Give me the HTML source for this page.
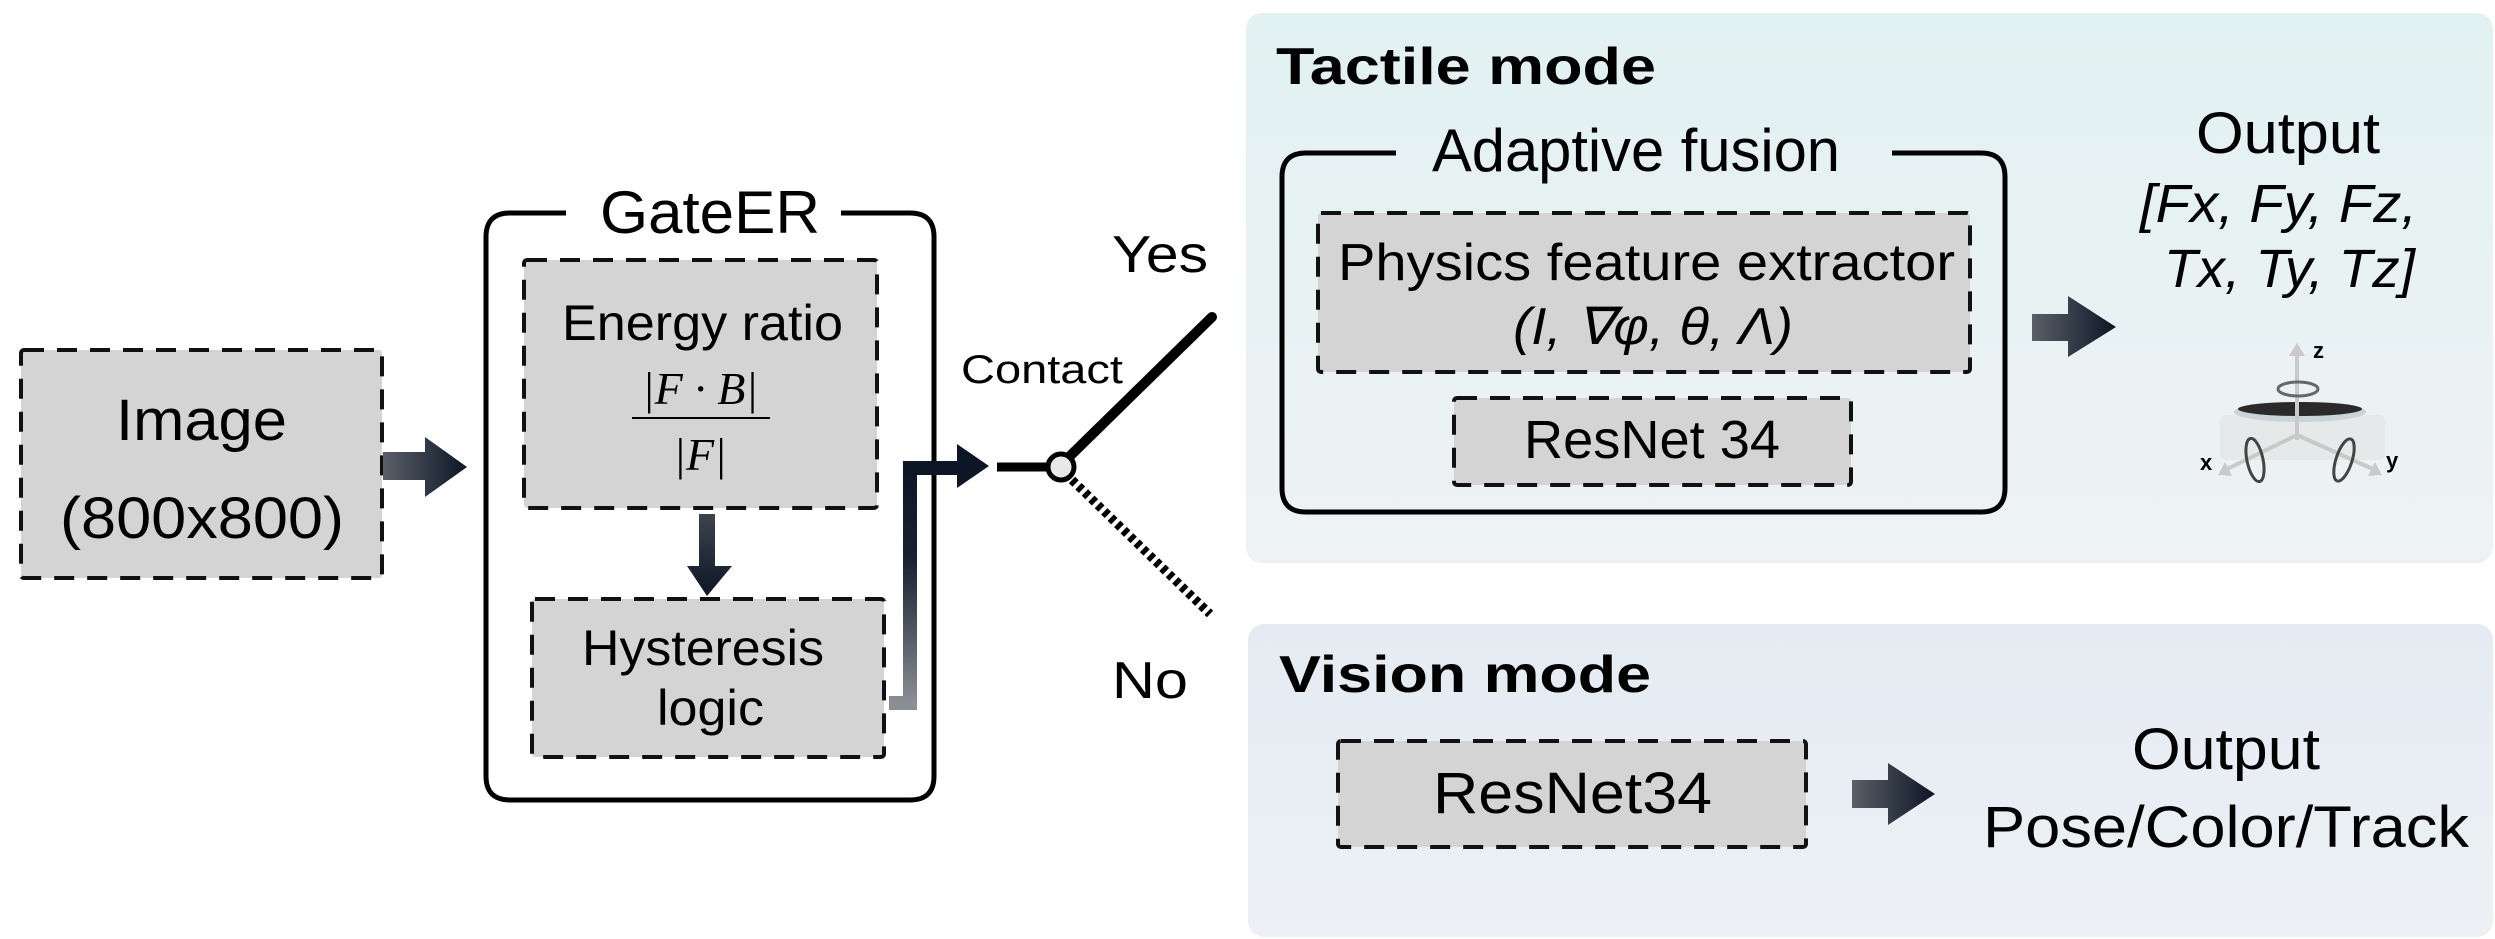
<!DOCTYPE html>
<html><head><meta charset="utf-8"><style>
html,body{margin:0;padding:0;background:#fff;}
svg{display:block;font-family:"Liberation Sans",sans-serif;}
</style></head><body>
<svg width="2495" height="939" viewBox="0 0 2495 939" xmlns="http://www.w3.org/2000/svg">
<defs>
<linearGradient id="tp" x1="0" y1="0" x2="0" y2="1"><stop offset="0" stop-color="#e2f1f1"/><stop offset="1" stop-color="#eef2f5"/></linearGradient>
<linearGradient id="vp" x1="0" y1="0" x2="0" y2="1"><stop offset="0" stop-color="#e4ebf2"/><stop offset="1" stop-color="#edf1f5"/></linearGradient>
<linearGradient id="ah" x1="0" y1="0" x2="1" y2="0"><stop offset="0" stop-color="#5a5f68"/><stop offset="1" stop-color="#0d1626"/></linearGradient>
<linearGradient id="av" x1="0" y1="0" x2="0" y2="1"><stop offset="0" stop-color="#3e444e"/><stop offset="1" stop-color="#0d1626"/></linearGradient>
<linearGradient id="au" x1="0" y1="1" x2="0" y2="0"><stop offset="0" stop-color="#8a8e95"/><stop offset="0.6" stop-color="#1a2232"/><stop offset="1" stop-color="#0d1626"/></linearGradient>
</defs>
<rect x="1246" y="13" width="1247" height="550" rx="16" fill="url(#tp)"/>
<rect x="1248" y="624" width="1245" height="313" rx="16" fill="url(#vp)"/>

<g stroke="#111" stroke-width="4" stroke-dasharray="20 13" fill="#d4d4d4">
<rect x="21" y="350" width="361" height="228" rx="3"/>
<rect x="524" y="260" width="353" height="248" rx="3"/>
<rect x="532" y="599" width="352" height="158" rx="3"/>
<rect x="1318" y="213" width="652" height="159" rx="3"/>
<rect x="1454" y="398" width="397" height="87" rx="3"/>
<rect x="1338" y="741" width="468" height="106" rx="3"/>
</g>

<path d="M566 213 H510 Q486 213 486 237 V776 Q486 800 510 800 H910 Q934 800 934 776 V237 Q934 213 910 213 H841" fill="none" stroke="#000" stroke-width="5"/>
<text x="600" y="233" font-size="60" textLength="220" lengthAdjust="spacingAndGlyphs">GateER</text>
<path d="M1396 153 H1306 Q1282 153 1282 177 V488 Q1282 512 1306 512 H1981 Q2005 512 2005 488 V177 Q2005 153 1981 153 H1892" fill="none" stroke="#000" stroke-width="5"/>
<text x="1432" y="171" font-size="60" textLength="408" lengthAdjust="spacingAndGlyphs">Adaptive fusion</text>

<text x="116" y="440" font-size="58" textLength="171" lengthAdjust="spacingAndGlyphs">Image</text>
<text x="60" y="538" font-size="58" textLength="284" lengthAdjust="spacingAndGlyphs">(800x800)</text>
<text x="562" y="340" font-size="50" textLength="281" lengthAdjust="spacingAndGlyphs">Energy ratio</text>
<text x="700" y="404" font-size="46" font-family="Liberation Serif,serif" font-style="italic" text-anchor="middle">|F · B|</text>
<line x1="632" y1="418" x2="770" y2="418" stroke="#000" stroke-width="2"/>
<text x="700" y="470" font-size="46" font-family="Liberation Serif,serif" font-style="italic" text-anchor="middle">|F|</text>
<text x="582" y="665" font-size="50" textLength="242" lengthAdjust="spacingAndGlyphs">Hysteresis</text>
<text x="657" y="725" font-size="50" textLength="107" lengthAdjust="spacingAndGlyphs">logic</text>
<text x="1112" y="272" font-size="52" textLength="96" lengthAdjust="spacingAndGlyphs">Yes</text>
<text x="1112" y="698" font-size="52" textLength="76" lengthAdjust="spacingAndGlyphs">No</text>
<text x="961" y="383" font-size="40" textLength="162" lengthAdjust="spacingAndGlyphs">Contact</text>
<text x="1276" y="84" font-size="52" font-weight="bold" textLength="380" lengthAdjust="spacingAndGlyphs">Tactile mode</text>
<text x="1279" y="692" font-size="52" font-weight="bold" textLength="372" lengthAdjust="spacingAndGlyphs">Vision mode</text>
<text x="1338" y="280" font-size="52" textLength="617" lengthAdjust="spacingAndGlyphs">Physics feature extractor</text>
<text x="1513" y="344" font-size="52" font-style="italic" textLength="280" lengthAdjust="spacingAndGlyphs">(I, ∇φ, θ, Λ)</text>
<text x="1524" y="458" font-size="54" textLength="256" lengthAdjust="spacingAndGlyphs">ResNet 34</text>
<text x="1433" y="813" font-size="58" textLength="279" lengthAdjust="spacingAndGlyphs">ResNet34</text>
<text x="2196" y="153" font-size="58" textLength="184" lengthAdjust="spacingAndGlyphs">Output</text>
<text x="2140" y="222" font-size="54" font-style="italic" textLength="277" lengthAdjust="spacingAndGlyphs">[Fx, Fy, Fz,</text>
<text x="2164" y="287" font-size="54" font-style="italic" textLength="251" lengthAdjust="spacingAndGlyphs">Tx, Ty, Tz]</text>
<text x="2132" y="769" font-size="58" textLength="188" lengthAdjust="spacingAndGlyphs">Output</text>
<text x="1983" y="847" font-size="58" textLength="486" lengthAdjust="spacingAndGlyphs">Pose/Color/Track</text>

<polygon points="383,452 425,452 425,437 467,467 425,497 425,480 383,480" fill="url(#ah)"/>
<polygon points="699,514 715,514 715,566 732,566 707,596 687,566 699,566" fill="url(#av)"/>
<polygon points="2032,314 2068,314 2068,296 2116,327 2068,357 2068,341 2032,341" fill="url(#ah)"/>
<polygon points="1852,780 1888,780 1888,763 1935,794 1888,825 1888,808 1852,808" fill="url(#ah)"/>
<path d="M889 703 H910 V468 H960" fill="none" stroke="url(#au)" stroke-width="14"/>
<polygon points="957,444 989,466 957,488" fill="#0d1626"/>

<line x1="997" y1="467" x2="1047" y2="467" stroke="#000" stroke-width="9"/>
<line x1="1070" y1="456" x2="1212" y2="317" stroke="#000" stroke-width="10" stroke-linecap="round"/>
<line x1="1072" y1="480" x2="1210" y2="614" stroke="#000" stroke-width="9" stroke-dasharray="5 4"/>
<circle cx="1061" cy="467" r="13" fill="#e8e8e8" stroke="#000" stroke-width="5"/>

<g>
<rect x="2220" y="415" width="165" height="45" rx="6" fill="#e6e9ea"/>
<ellipse cx="2300" cy="412" rx="66" ry="10" fill="#c9d3d8"/>
<ellipse cx="2300" cy="409" rx="62" ry="7" fill="#2a2a2a"/>
<line x1="2297" y1="440" x2="2297" y2="352" stroke="#c9c9c9" stroke-width="4"/>
<polygon points="2289,356 2297,343 2305,356" fill="#c9c9c9"/>
<line x1="2297" y1="435" x2="2225" y2="470" stroke="#c9c9c9" stroke-width="4"/>
<line x1="2297" y1="435" x2="2375" y2="470" stroke="#c9c9c9" stroke-width="4"/>
<polygon points="2218,475 2225,462 2232,476" fill="#c9c9c9"/>
<polygon points="2382,475 2375,462 2368,476" fill="#c9c9c9"/>
<ellipse cx="2298" cy="389" rx="20" ry="7" fill="none" stroke="#666" stroke-width="3"/>
<ellipse cx="2255" cy="460" rx="8" ry="22" fill="none" stroke="#444" stroke-width="3" transform="rotate(-12 2255 460)"/>
<ellipse cx="2344" cy="460" rx="8" ry="22" fill="none" stroke="#444" stroke-width="3" transform="rotate(18 2344 460)"/>
<text x="2313" y="358" font-size="22" font-weight="bold">z</text>
<text x="2200" y="470" font-size="22" font-weight="bold">x</text>
<text x="2386" y="468" font-size="22" font-weight="bold">y</text>
</g>
</svg>
</body></html>
